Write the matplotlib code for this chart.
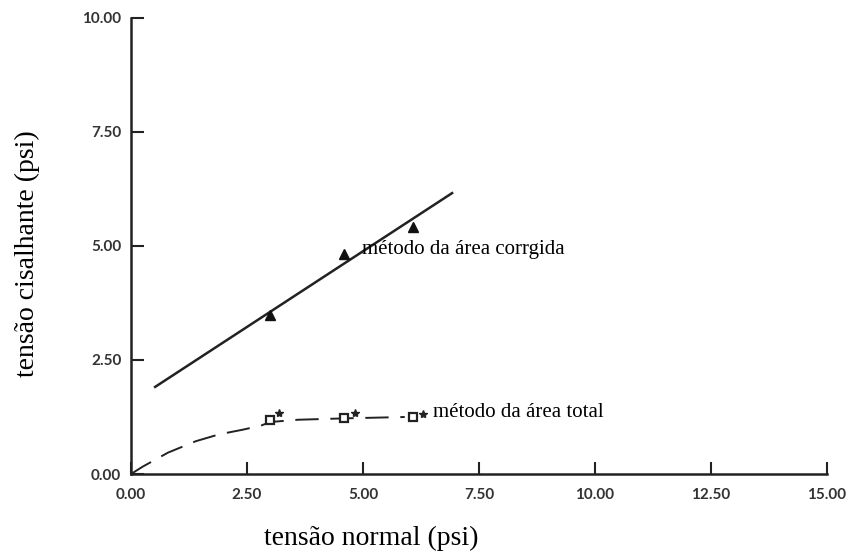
import numpy as np
import matplotlib
matplotlib.use("Agg")
import matplotlib.pyplot as plt

# dados
tensao_normal = [3.0, 4.6, 6.08]
corrigida = [3.49, 4.82, 5.42]
total = [1.18, 1.23, 1.25]
estrela_x = [3.18, 4.82, 6.3]
estrela_y = [1.34, 1.34, 1.32]

reta_x = [0.52, 6.92]
reta_y = [1.91, 6.16]

curva_x = [0.0, 0.25, 0.8, 1.4, 1.9, 2.4, 2.8, 3.0, 3.6, 4.6, 5.9]
curva_y = [0.0, 0.16, 0.47, 0.72, 0.87, 0.97, 1.06, 1.14, 1.19, 1.22, 1.25]

xticks = [0, 2.5, 5, 7.5, 10, 12.5, 15]
yticks = [0, 2.5, 5, 7.5, 10]

serif = "Liberation Serif"
tickfont = {"family": "Lato", "weight": "bold", "size": 11}

fig = plt.figure(figsize=(8.49, 5.55), dpi=100)
ax = fig.add_axes([131 / 849, 81 / 555, 696 / 849, 456 / 555])

ax.plot(reta_x, reta_y, color="#222222", lw=1.8)
ax.plot(curva_x, curva_y, color="#222222", lw=1.4, dashes=(12, 6))
ax.plot(tensao_normal, corrigida, ls="none", marker="^", ms=7, color="#111111")
ax.plot(tensao_normal, total, ls="none", marker="s", ms=6, mfc="white",
        mec="#222222", mew=1.6)
ax.plot(estrela_x, estrela_y, ls="none", marker="*", ms=6, color="#222222")

ax.text(4.98, 4.92, "método da área corrgida", family=serif, fontsize=15,
        va="center", ha="left")
ax.text(6.5, 1.35, "método da área total", family=serif, fontsize=15,
        va="center", ha="left")

ax.set_xlim(0, 15)
ax.set_ylim(0, 10)
ax.set_xticks(xticks)
ax.set_yticks(yticks)
ax.set_xticklabels([f"{v:.2f}" for v in xticks], fontdict=tickfont, color="#333333")
ax.set_yticklabels([f"{v:.2f}" for v in yticks], fontdict=tickfont, color="#333333")
ax.tick_params(direction="in", length=9, width=1.5, color="#222222")
ax.tick_params(axis="x", pad=10)
ax.tick_params(axis="y", pad=7)

for s in ["top", "right"]:
    ax.spines[s].set_visible(False)
for s in ["left", "bottom"]:
    ax.spines[s].set_linewidth(1.8)
    ax.spines[s].set_color("#222222")

fig.text(371 / 849, 1 - 538 / 555, "tensão normal (psi)", family=serif,
         fontsize=20, ha="center", va="center")
fig.text(27 / 849, 1 - 254 / 555, "tensão cisalhante (psi)", family=serif,
         fontsize=20, ha="center", va="center", rotation=90)

fig.savefig("out.png", dpi=100)
